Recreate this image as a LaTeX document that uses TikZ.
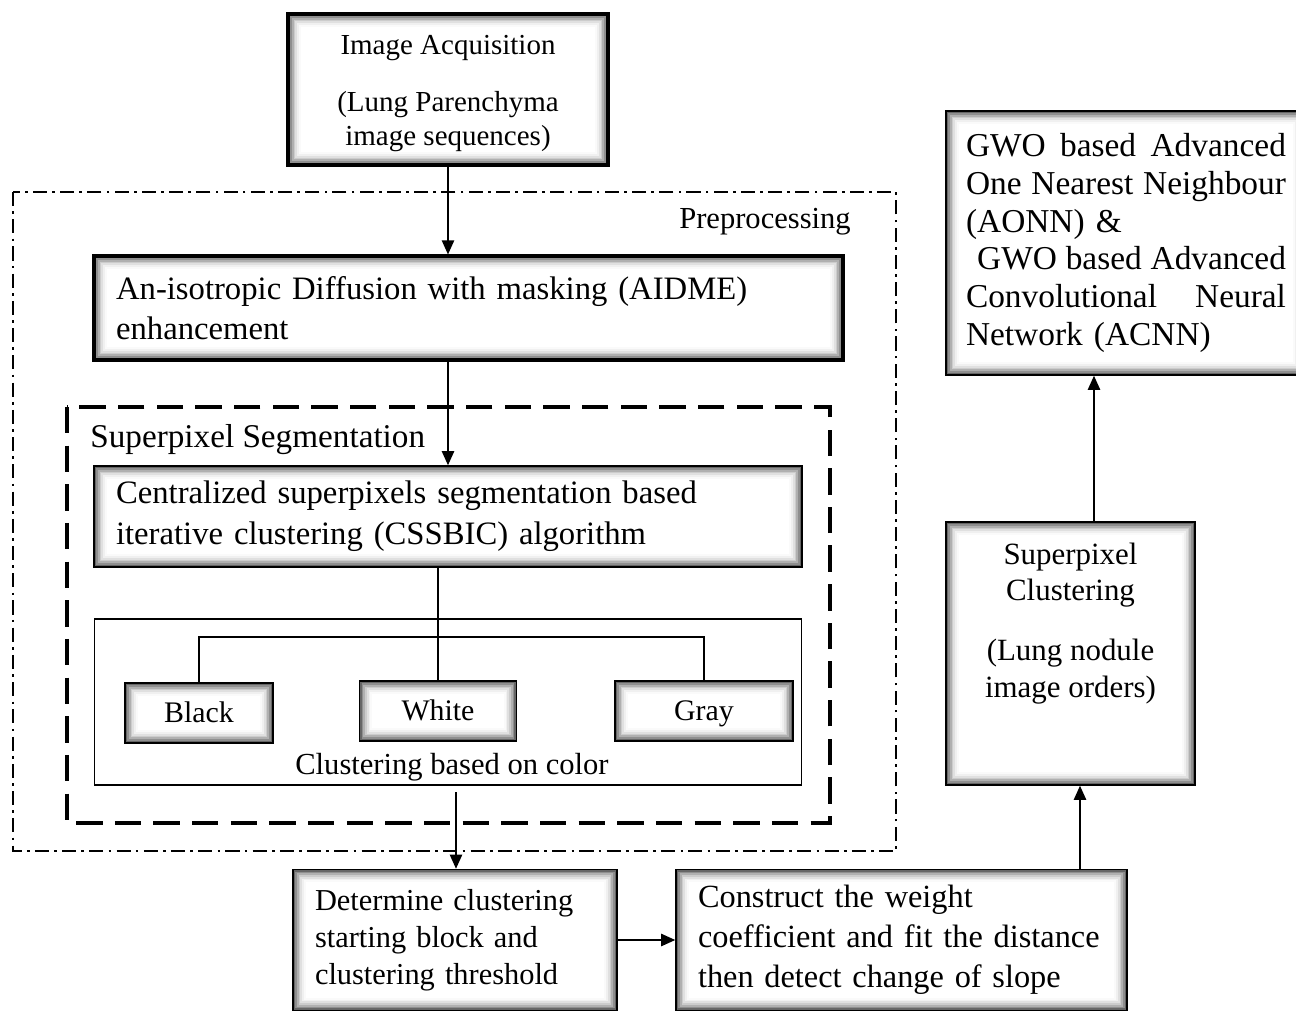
\documentclass[tikz,border=0pt]{standalone}
\usepackage{fontspec}
\setmainfont{Liberation Serif}
\usetikzlibrary{arrows.meta}

\newcommand{\fsz}[2]{\fontsize{#1}{#2}\selectfont}
\newcommand{\spreadline}[1]{\leavevmode\hbox to 6.4cm{#1}}

\tikzset{
  shbox/.style={draw, line width=0.9pt, fill=white,
    font=\fsz{18}{22},
    path picture={
      \foreach \g [count=\i] in {60,44,31,20,12,6,2}
        \draw[black!\g, line width=1.1pt]
          ([shift={(\i*1pt-0.3pt,\i*1pt-0.3pt)}]path picture bounding box.south west) rectangle
          ([shift={(-\i*1pt+0.3pt,-\i*1pt+0.3pt)}]path picture bounding box.north east);
    }},
  heavy/.style={line width=1.8pt},
  txtbox/.style={shbox, align=left, inner xsep=0.44cm},
  colbox/.style={shbox, font=\fsz{17}{20}, minimum height=1.2cm, text height=11pt, text depth=0pt},
  lbl/.style={font=\fsz{17.4}{21}},
  arr/.style={line width=0.85pt, -{Triangle[length=8pt,width=7pt]}},
  conn/.style={line width=0.85pt}
}

\begin{document}
\begin{tikzpicture}[x=0.02cm,y=-0.02cm]
\useasboundingbox (0,0) rectangle (1296,1011);

% frames
\draw[line width=1.2pt, dash pattern=on 8pt off 3pt on 1.5pt off 3pt] (13,192) rectangle (896,851);
\node[lbl] (prelbl) at (765,222) {Preprocessing};
\draw[line width=2.2pt, dash pattern=on 15pt off 7pt] (67,407) rectangle (830,823);
\node[lbl, font=\fsz{18.9}{22}, anchor=west, inner xsep=0pt] (seglbl) at (90,440) {Superpixel Segmentation};
\node[draw, line width=0.6pt, minimum width=14.16cm, minimum height=3.32cm] (colrect) at (448,702) {};
\node[lbl] (collbl) at (452,767) {Clustering based on color};

% boxes
\node[shbox, heavy, font=\fsz{16.5}{19.3}, minimum width=6.4cm, minimum height=3.02cm, align=center] (acq) at (448,89.5)
  {\mbox{}\\[-4pt]Image Acquisition\\[13pt](Lung Parenchyma\\image sequences)};
\node[txtbox, heavy, font=\fsz{18.6}{22.7}, text width=14.1cm, minimum height=2.08cm] (aidme) at (468.5,308)
  {An-isotropic Diffusion with masking (AIDME)\\enhancement};
\node[txtbox, font=\fsz{18.6}{23.5}, text width=13.28cm, minimum height=2.02cm] (cssbic) at (448,516.5)
  {Centralized superpixels segmentation based\\iterative clustering (CSSBIC) algorithm};
\node[colbox, minimum width=2.96cm] (black) at (199,713) {Black};
\node[colbox, minimum width=3.14cm] (white) at (438,711) {White};
\node[colbox, minimum width=3.56cm] (gray) at (704,711) {Gray};
\node[txtbox, font=\fsz{17.3}{21.2}, text width=5.6cm, minimum height=2.82cm] (det) at (455,940)
  {Determine clustering\\starting block and\\clustering threshold};
\node[txtbox, font=\fsz{18.4}{22.7}, text width=8.14cm, minimum height=2.82cm] (cons) at (901.5,940)
  {Construct the weight\\coefficient and fit the distance\\then detect change of slope};
\node[shbox, font=\fsz{17.6}{21}, minimum width=4.98cm, minimum height=5.26cm, align=center] (spx) at (1070.5,653.5)
  {Superpixel\\Clustering\\[13pt](Lung nodule\\image orders)\\[17pt]\mbox{}};
\node[txtbox, font=\fsz{19}{21.5}, inner xsep=0.4cm, text width=6.4cm, minimum height=5.28cm] (gwo) at (1126,243)
  {\spreadline{GWO\hfil based\hfil Advanced}\\
   \spreadline{One\hfil Nearest\hfil Neighbour}\\
   (AONN) \&\\
   \spreadline{\ GWO\hfil based\hfil Advanced}\\
   \spreadline{Convolutional\hfil Neural}\\
   Network (ACNN)};

% connectors
\coordinate (split) at (438,637);
\coordinate (cbout) at (456,792);
\draw[arr] (acq.south) -- (acq.south |- aidme.north);
\draw[arr] (aidme.south -| cssbic.north) -- (cssbic.north);
\draw[conn] (cssbic.south -| white.north) -- (white.north);
\draw[conn] (black.north) |- (split) -| (gray.north);
\draw[arr] (cbout) -- (cbout |- det.north);
\draw[arr] (det) -- (cons);
\draw[arr] ([xshift=0.19cm]spx.south |- cons.north) -- ([xshift=0.19cm]spx.south);
\draw[arr] ([xshift=0.47cm]spx.north) -- ([xshift=0.47cm]spx.north |- gwo.south);

\end{tikzpicture}
\end{document}
